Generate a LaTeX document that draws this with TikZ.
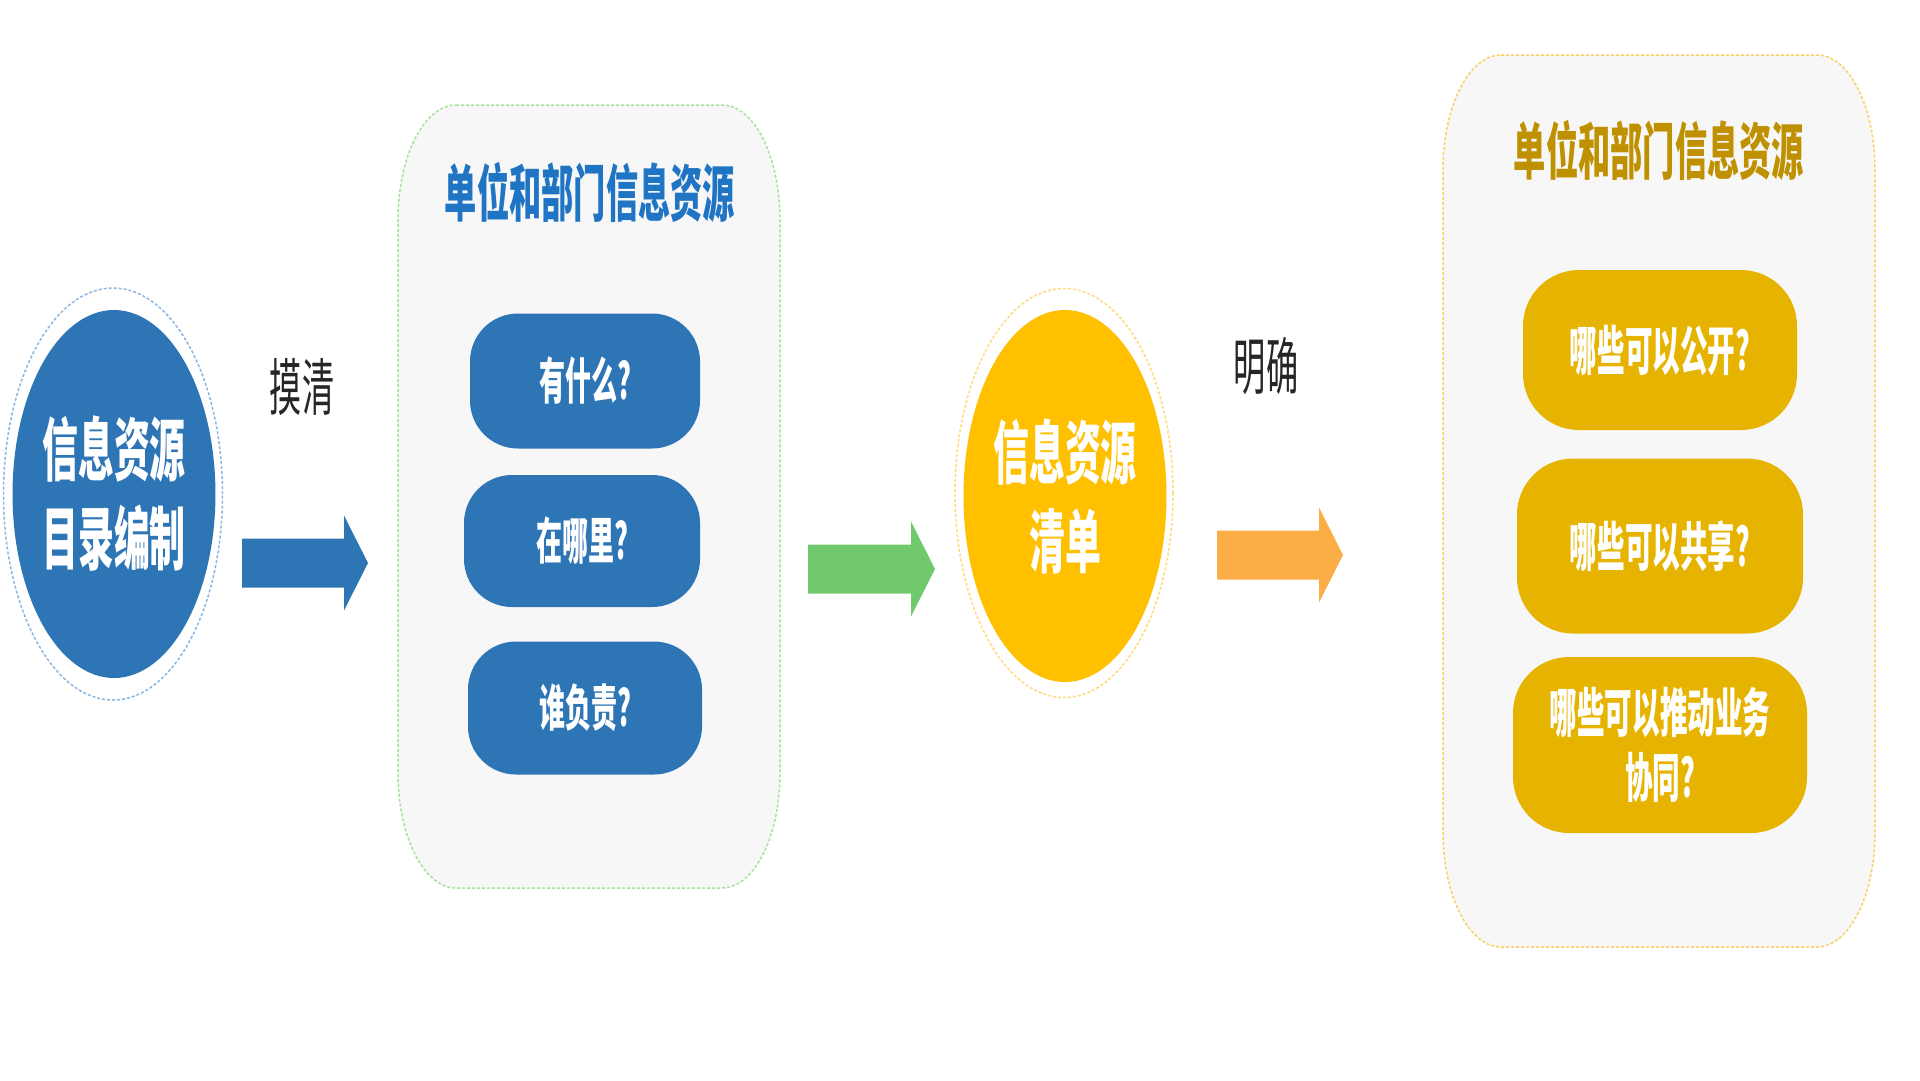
\documentclass[tikz,border=0pt]{standalone}
\usepackage{fontspec}
\newfontfamily\cjk[FakeStretch=0.52]{Noto Sans CJK SC}
\usetikzlibrary{shapes.geometric}
\definecolor{dotblue}{HTML}{2E75B6}
\definecolor{ringblue}{HTML}{8AB6E0}
\definecolor{titleblue}{HTML}{1F74C4}
\definecolor{panelgray}{HTML}{F7F7F7}
\definecolor{edgegreen}{HTML}{A6E29C}
\definecolor{arrowgreen}{HTML}{70C96C}
\definecolor{dotyellow}{HTML}{FFC000}
\definecolor{ringyellow}{HTML}{FFDB7A}
\definecolor{arroworange}{HTML}{FAAE45}
\definecolor{pillgold}{HTML}{E6B400}
\definecolor{titlegold}{HTML}{BF9000}
\definecolor{edgegold}{HTML}{F8D260}
\begin{document}
\begin{tikzpicture}[x=1pt,y=-1pt,
	bigdot/.style={ellipse,inner sep=0pt,text=white,align=center,font=\cjk\bfseries\fontsize{69}{89}\selectfont},
	ring/.style={ellipse,inner sep=0pt,densely dashed,line width=1.5pt},
	panel/.style={fill=panelgray,densely dashed,line width=1.5pt},
	paneltitle/.style={font=\cjk\bfseries\fontsize{62}{70}\selectfont},
	pill/.style={rectangle,rounded corners=48pt,inner sep=0pt,text=white,align=center},
	steplabel/.style={text=black!85,font=\cjk\fontsize{62}{70}\selectfont}]
	\fill[white] (0,0) rectangle (1920,1080);
	\useasboundingbox (0,0) rectangle (1920,1080);
	% panels
	\foreach \xa/\ya/\xb/\yb/\c in {398/105/780/888/edgegreen,1443/55/1875/947/edgegold}
	\draw[panel,draw=\c] (\xa+58,\ya) -- (\xb-58,\ya) arc[start angle=270,end angle=360,x radius=58,y radius=115]
		-- (\xb,\yb-115) arc[start angle=0,end angle=90,x radius=58,y radius=115]
		-- (\xa+58,\yb) arc[start angle=90,end angle=180,x radius=58,y radius=115]
		-- (\xa,\ya+115) arc[start angle=180,end angle=270,x radius=58,y radius=115] -- cycle;
	% dots
	\node[ring,draw=ringblue,minimum width=219pt,minimum height=412pt] (ring1) at (113,494) {};
	\node[bigdot,fill=dotblue,minimum width=198pt,minimum height=368pt] (dot1) at (114,494) {信息资源\\目录编制};
	\node[ring,draw=ringyellow,minimum width=218pt,minimum height=409pt] (ring2) at (1064,493) {};
	\node[bigdot,fill=dotyellow,minimum width=200pt,minimum height=372pt] (dot2) at (1065,496) {信息资源\\清单};
	% labels
	\node[steplabel] (lab1) at (302,387) {摸清};
	\node[steplabel] (lab2) at (1266,366) {明确};
	% titles
	\node[paneltitle,text=titleblue] (head1) at (590,192) {单位和部门信息资源};
	\node[paneltitle,text=titlegold] (head2) at (1659,150) {单位和部门信息资源};
	% questions
	\node[pill,fill=dotblue,minimum width=230pt,minimum height=135pt,font=\cjk\bfseries\fontsize{50}{60}\selectfont] (ask1) at (585,381) {有什么?};
	\node[pill,fill=dotblue,minimum width=236pt,minimum height=132pt,font=\cjk\bfseries\fontsize{50}{60}\selectfont] (ask2) at (582,541) {在哪里?};
	\node[pill,fill=dotblue,minimum width=234pt,minimum height=133pt,font=\cjk\bfseries\fontsize{50}{60}\selectfont] (ask3) at (585,708) {谁负责?};
	\node[pill,fill=pillgold,rounded corners=56pt,minimum width=274pt,minimum height=160pt,font=\cjk\bfseries\fontsize{53}{65}\selectfont] (use1) at (1660,350) {哪些可以公开?};
	\node[pill,fill=pillgold,rounded corners=56pt,minimum width=286pt,minimum height=175pt,font=\cjk\bfseries\fontsize{53}{65}\selectfont] (use2) at (1660,546) {哪些可以共享?};
	\node[pill,fill=pillgold,rounded corners=56pt,minimum width=294pt,minimum height=176pt,font=\cjk\bfseries\fontsize{53}{65}\selectfont] (use3) at (1660,745) {哪些可以推动业务\\协同?};
	% block arrows
	\coordinate (a1s) at (242,563); \coordinate (a1e) at (368,563);
	\coordinate (a2s) at (808,569); \coordinate (a2e) at (935,569);
	\coordinate (a3s) at (1217,555); \coordinate (a3e) at (1343,555);
	\foreach \s/\e/\c in {a1s/a1e/dotblue,a2s/a2e/arrowgreen,a3s/a3e/arroworange}
	\fill[\c] ([yshift=24.5pt]\s) -- ([xshift=-24pt,yshift=24.5pt]\e) -- ([xshift=-24pt,yshift=47.5pt]\e) -- (\e)
		-- ([xshift=-24pt,yshift=-47.5pt]\e) -- ([xshift=-24pt,yshift=-24.5pt]\e) -- ([yshift=-24.5pt]\s) -- cycle;
\end{tikzpicture}
\end{document}
